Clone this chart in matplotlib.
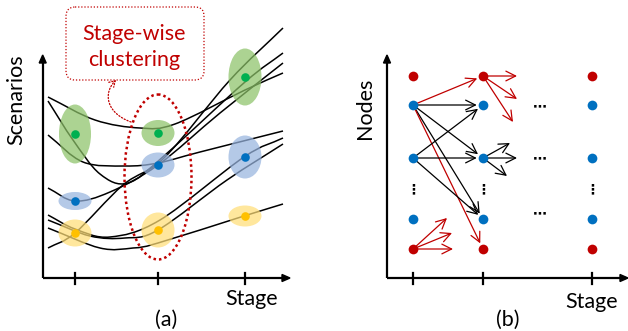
import numpy as np
import matplotlib
matplotlib.use("Agg")
import matplotlib.pyplot as plt
from matplotlib.patches import Ellipse, FancyBboxPatch, FancyArrowPatch, Polygon, PathPatch
from matplotlib.path import Path

plt.rcParams['font.family'] = ['Lato', 'DejaVu Sans']

RED = '#C00000'
BLUE = '#0070C0'
GREEN_DOT = '#00B050'
YELLOW_DOT = '#FFC000'
FS = 15.5

# ---------------- panel (a): scenario paths and stage-wise clusters ----------------
stage_x_a = [75, 158, 245]

# scenario paths, as (x, y) knots in canvas pixels
scenario_paths = [
    [(48, 97), (95, 120), (140, 128), (175, 124), (245, 90), (283, 73)],
    [(48, 101), (73, 140), (100, 174), (128, 183), (165, 155), (245, 82), (283, 53)],
    [(48, 135), (83, 162), (125, 166), (158, 163), (200, 152), (283, 131)],
    [(48, 188), (75, 201), (110, 192), (158, 165), (220, 113), (283, 63)],
    [(48, 215), (75, 229), (110, 237), (160, 220), (244, 157), (283, 138)],
    [(48, 220), (90, 236), (125, 238), (158, 230), (227, 180), (283, 144)],
    [(48, 228), (100, 248), (133, 248), (158, 243), (244, 216), (283, 204)],
    [(48, 248), (75, 233), (123, 185), (165, 157), (230, 80), (283, 28)],
]

# clusters: (stage index, centre y, width, height, colour group)
cluster_stage = [0, 0, 0, 1, 1, 1, 2, 2, 2]
cluster_y = [134, 201, 233, 133, 165, 230, 77, 157, 216]
cluster_w = [32, 33, 33, 33, 33, 33, 33, 33, 33]
cluster_h = [59, 18, 27, 26, 25, 35, 57, 43, 21]
cluster_kind = ['g', 'b', 'y', 'g', 'b', 'y', 'g', 'b', 'y']

fill_colors = {'g': (140/255, 194/255, 104/255),
               'b': (151/255, 180/255, 223/255),
               'y': (255/255, 222/255, 119/255)}
dot_colors = {'g': GREEN_DOT, 'b': BLUE, 'y': YELLOW_DOT}

# ---------------- panel (b): scenario tree nodes ----------------
stage_x_b = [413, 483, 592]
node_y = [76, 105, 158, 219, 249]
node_kind = ['r', 'b', 'b', 'b', 'r']
vdots_y = 189
hdots_x = 540
hdots_y = [106, 158, 213]

# transitions between nodes: (from stage, from node, to stage, to node, colour)
edges = [
    (0, 1, 1, 0, 'r'), (0, 1, 1, 1, 'k'), (0, 1, 1, 2, 'k'), (0, 1, 1, 3, 'k'),
    (0, 1, 1, 4, 'r'), (0, 2, 1, 1, 'k'), (0, 2, 1, 2, 'k'), (0, 2, 1, 3, 'k'),
]
# short outgoing arrows: (stage, node, end x, end y, colour)
stubs = [
    (0, 4, 447, 218, 'r'), (0, 4, 452, 233, 'r'), (0, 4, 453, 249, 'r'),
    (1, 0, 517, 76, 'r'), (1, 0, 517, 99, 'r'), (1, 0, 513, 122, 'r'),
    (1, 2, 510, 143, 'k'), (1, 2, 517, 158, 'k'), (1, 2, 507, 176, 'k'),
]

fig = plt.figure(figsize=(6.28, 3.31), dpi=100)
ax = fig.add_axes([0, 0, 1, 1])
ax.set_xlim(0, 628)
ax.set_ylim(331, 0)
ax.axis('off')


def smooth_path(pts):
    """Catmull-Rom knots converted to cubic Bezier segments."""
    p = np.asarray(pts, dtype=float)
    ext = np.vstack([p[0] - (p[1] - p[0]), p, p[-1] + (p[-1] - p[-2])])
    verts = [tuple(p[0])]
    codes = [Path.MOVETO]
    for i in range(1, len(ext) - 2):
        c1 = ext[i] + (ext[i + 1] - ext[i - 1]) / 6.0
        c2 = ext[i + 1] - (ext[i + 2] - ext[i]) / 6.0
        verts += [tuple(c1), tuple(c2), tuple(ext[i + 1])]
        codes += [Path.CURVE4] * 3
    return Path(verts, codes)


def axis_arrow(x0, y0, x1, y1):
    ax.plot([x0, x1], [y0, y1], color='black', lw=1.6, solid_capstyle='butt', zorder=5)
    d = np.array([x1 - x0, y1 - y0], dtype=float)
    d /= np.hypot(*d)
    n = np.array([-d[1], d[0]])
    tip = np.array([x1, y1]) + d * 2
    base = tip - d * 8
    tri = [tip, base + n * 3.5, base - n * 3.5]
    ax.add_patch(Polygon(tri, closed=True, color='black', zorder=6))


# scenario paths
for pts in scenario_paths:
    ax.add_patch(PathPatch(smooth_path(pts), fill=False, edgecolor='black', lw=1.1, zorder=2))

# clusters
for s, cy, w, h, k in zip(cluster_stage, cluster_y, cluster_w, cluster_h, cluster_kind):
    cx = stage_x_a[s]
    ax.add_patch(Ellipse((cx, cy), w, h, facecolor=fill_colors[k], edgecolor='none',
                         alpha=0.72, zorder=3))
    ax.plot(cx, cy, 'o', ms=6.2, color=dot_colors[k], mec='none', zorder=4)

# stage-wise clustering annotation
ax.add_patch(Ellipse((158, 177), 67, 165, fill=False, edgecolor=RED, lw=1.8,
                     linestyle=(0, (1, 1.2)), zorder=4))
ax.add_patch(FancyBboxPatch((66, 7), 138, 73, boxstyle='round,pad=0,rounding_size=9',
                            fill=False, edgecolor=RED, lw=0.9, linestyle=(0, (1, 1.5)),
                            zorder=4))
ax.text(134, 39.5, 'Stage-wise', color=RED, fontsize=FS, ha='center', va='baseline')
ax.text(134, 65.5, 'clustering', color=RED, fontsize=FS, ha='center', va='baseline')
curl = Path([(131, 122), (106, 113), (103, 93), (116, 80)],
            [Path.MOVETO, Path.CURVE4, Path.CURVE4, Path.CURVE4])
ax.add_patch(FancyArrowPatch(path=curl, arrowstyle='->,head_length=4,head_width=2.5',
                             color=RED, lw=0.9, linestyle=(0, (1, 1.5)),
                             mutation_scale=1, zorder=4))

# panel (a) axes
axis_arrow(42.7, 278, 42.7, 57)
axis_arrow(42.7, 278, 288, 278)
for x in stage_x_a:
    ax.plot([x, x], [273, 284], color='black', lw=1.6, zorder=5)
ax.text(16, 100, 'Scenarios', rotation=90, fontsize=FS, ha='center', va='center')
ax.text(252, 305, 'Stage', fontsize=FS, ha='center', va='baseline')
ax.text(166, 320, '(a)', fontsize=FS, ha='center', va='center')

# panel (b) nodes
for sx in stage_x_b:
    for ny, k in zip(node_y, node_kind):
        ax.plot(sx, ny, 'o', ms=7, color=RED if k == 'r' else BLUE, mec='none', zorder=4)
    ax.text(sx, vdots_y, '\u22ee', fontsize=10, ha='center', va='center',
            fontfamily='DejaVu Sans', fontweight='bold')
for hy in hdots_y:
    ax.text(hdots_x, hy, '\u22ef', fontsize=10, ha='center', va='center',
            fontfamily='DejaVu Sans', fontweight='bold')


def arrow(p0, p1, colour, shrink_a, shrink_b):
    ax.add_patch(FancyArrowPatch(p0, p1, arrowstyle='->,head_length=7,head_width=3.5',
                                 color=RED if colour == 'r' else 'black', lw=0.9,
                                 shrinkA=shrink_a, shrinkB=shrink_b, mutation_scale=1,
                                 zorder=3))


for s0, n0, s1, n1, c in edges:
    arrow((stage_x_b[s0], node_y[n0]), (stage_x_b[s1], node_y[n1]), c, 3, 4.5)
for s0, n0, ex, ey, c in stubs:
    arrow((stage_x_b[s0], node_y[n0]), (ex, ey), c, 3, 0)

# panel (b) axes
axis_arrow(387, 278, 387, 57)
axis_arrow(387, 278, 626, 278)
for x in stage_x_b:
    ax.plot([x, x], [273, 284], color='black', lw=1.6, zorder=5)
ax.text(365, 108, 'Nodes', rotation=90, fontsize=FS, ha='center', va='center')
ax.text(592, 308, 'Stage', fontsize=FS, ha='center', va='baseline')
ax.text(508, 320, '(b)', fontsize=FS, ha='center', va='center')

fig.savefig('out.png', dpi=100)
